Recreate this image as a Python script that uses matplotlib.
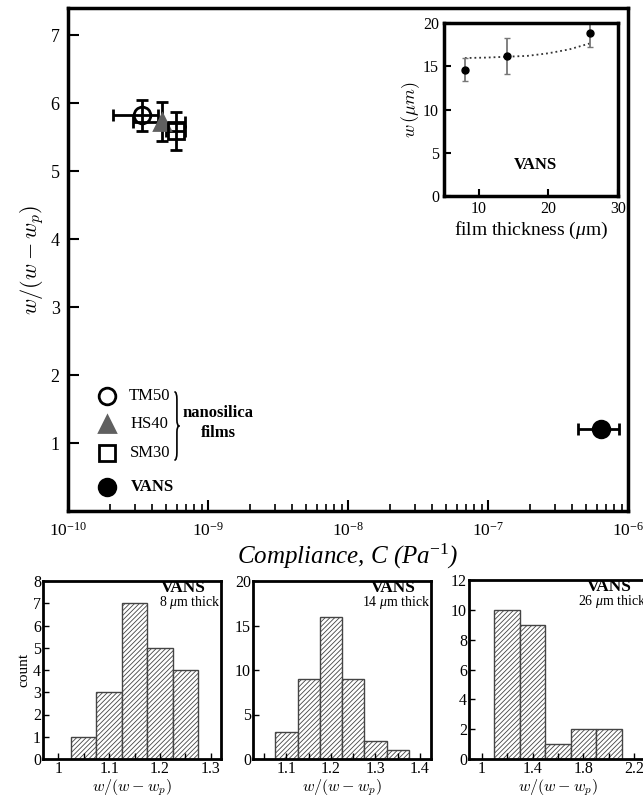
import numpy as np
import matplotlib
matplotlib.use('Agg')
import matplotlib.pyplot as plt
from matplotlib.path import Path
from matplotlib.patches import PathPatch
from matplotlib.ticker import LogLocator, LogFormatterSciNotation, FixedLocator, NullFormatter

plt.rcParams['font.family'] = ['Liberation Serif', 'DejaVu Serif']
plt.rcParams['mathtext.fontset'] = 'custom'
plt.rcParams['mathtext.rm'] = 'Liberation Serif'
plt.rcParams['mathtext.it'] = 'Liberation Serif:italic'
plt.rcParams['mathtext.bf'] = 'Liberation Serif:bold'
plt.rcParams['hatch.color'] = '#555555'
plt.rcParams['hatch.linewidth'] = 0.6

# main panel: nanosilica films and VANS
names = ['TM50', 'HS40', 'SM30', 'VANS']
comp = [3.4e-10, 4.7e-10, 5.9e-10, 6.4e-7]
comp_lo = [2.1e-10, 2.9e-10, 5.0e-10, 4.4e-7]
comp_hi = [4.4e-10, 6.9e-10, 6.9e-10, 8.6e-7]
ratio = [5.82, 5.73, 5.59, 1.21]
ratio_err = [0.23, 0.28, 0.28, 0.0]
markers = ['o', '^', 's', 'o']
faces = ['none', '#606060', 'none', 'black']
edges = ['black', '#606060', 'black', 'black']

# inset: w vs film thickness
thick = [8, 14, 26]
w_um = [14.6, 16.2, 18.8]
w_err = [1.35, 2.05, 1.6]
fit_x = [8, 11, 14, 17, 20, 23, 26]
fit_y = [15.95, 16.0, 16.1, 16.2, 16.5, 16.95, 17.65]

# histograms
h1_edges = [1.025, 1.075, 1.125, 1.175, 1.225, 1.275]
h1_counts = [1, 3, 7, 5, 4]
h2_edges = [1.075, 1.125, 1.175, 1.225, 1.275, 1.325, 1.375]
h2_counts = [3, 9, 16, 9, 2, 1]
h3_edges = [1.1, 1.3, 1.5, 1.7, 1.9, 2.1]
h3_counts = [10, 9, 1, 2, 2]

W, H = 643, 797
fig = plt.figure(figsize=(W / 100, H / 100), dpi=100)

def box(l, t, r, b):
    return [l / W, (H - b) / H, (r - l) / W, (b - t) / H]

wlab = r'$w/(w-w_p)$'

# ---- main axes
ax = fig.add_axes(box(68, 8, 628, 511))
for i in range(4):
    xerr = [[comp[i] - comp_lo[i]], [comp_hi[i] - comp[i]]]
    ax.errorbar([comp[i]], [ratio[i]], xerr=xerr, yerr=[ratio_err[i]] if ratio_err[i] > 0 else None,
                fmt='none', ecolor='black', elinewidth=2, capsize=4, capthick=2, zorder=2)
for i in range(4):
    ms = 12 if markers[i] == 'o' else 11
    ax.plot([comp[i]], [ratio[i]], marker=markers[i], ms=ms, mfc=faces[i], mec=edges[i],
            mew=2, ls='none', zorder=3)
ax.set_xscale('log')
ax.set_xlim(1e-10, 1e-6)
ax.set_ylim(0, 7.4)
ax.set_yticks([1, 2, 3, 4, 5, 6, 7])
ax.xaxis.set_major_locator(LogLocator(base=10))
ax.xaxis.set_minor_locator(LogLocator(base=10, subs=np.arange(2, 10)))
ax.xaxis.set_minor_formatter(NullFormatter())
ax.xaxis.set_major_formatter(LogFormatterSciNotation())
ax.tick_params(axis='both', which='major', direction='in', length=8, width=1.5)
ax.tick_params(axis='y', labelsize=13, pad=6)
ax.tick_params(axis='x', labelsize=12.5, pad=8)
ax.tick_params(axis='x', which='minor', direction='in', length=5, width=1.2)
for s in ax.spines.values():
    s.set_linewidth(2.5)
ax.set_xlabel(r'Compliance, C (Pa$^{\mathit{-1}}$)', fontsize=18, style='italic', labelpad=1)
ax.set_ylabel(wlab, fontsize=16, math_fontfamily='cm', labelpad=3)

# hand made legend
lx = 0.0696
leg_y = [0.2286, 0.173, 0.1153, 0.0477]
for i in range(4):
    ms = 12 if markers[i] == 'o' else 11
    ax.plot([lx], [leg_y[i]], marker=markers[i], ms=ms, mfc=faces[i], mec=edges[i], mew=2,
            ls='none', transform=ax.transAxes, clip_on=False)
for i in range(3):
    ax.text(0.146, leg_y[i], names[i], transform=ax.transAxes, fontsize=12,
            ha='center', va='center')
ax.text(0.1125, leg_y[3], 'VANS', transform=ax.transAxes, fontsize=12, fontweight='bold',
        ha='left', va='center')

# curly brace grouping the nanosilica films
bx, bw = 0.19, 0.009
bt, bb = 0.237, 0.101
bm = (bt + bb) / 2
verts = [(bx, bt), (bx + bw / 2, bt), (bx + bw / 2, bt - 0.015),
         (bx + bw / 2, bm + 0.012),
         (bx + bw / 2, bm), (bx + bw, bm),
         (bx + bw / 2, bm), (bx + bw / 2, bm - 0.012),
         (bx + bw / 2, bb + 0.015),
         (bx + bw / 2, bb), (bx, bb)]
codes = [Path.MOVETO, Path.CURVE3, Path.CURVE3, Path.LINETO, Path.CURVE3, Path.CURVE3,
         Path.CURVE3, Path.CURVE3, Path.LINETO, Path.CURVE3, Path.CURVE3]
ax.add_patch(PathPatch(Path(verts, codes), fill=False, lw=1.2, ec='black',
                       transform=ax.transAxes, clip_on=False))
ax.text(0.268, 0.195, 'nanosilica', transform=ax.transAxes, fontsize=12, fontweight='bold',
        ha='center', va='center')
ax.text(0.268, 0.155, 'films', transform=ax.transAxes, fontsize=12, fontweight='bold',
        ha='center', va='center')

# ---- inset
ins = fig.add_axes(box(444, 23, 618, 196))
ins.errorbar(thick, w_um, yerr=w_err, fmt='none', ecolor='#777777', elinewidth=1.3,
             capsize=2, capthick=1, zorder=2)
ins.plot(thick, w_um, 'o', color='black', ms=5, zorder=3)
ins.plot(fit_x, fit_y, ':', color='#333333', lw=1.3, zorder=1)
ins.set_xlim(5, 30)
ins.set_ylim(0, 20)
ins.set_xticks([10, 20, 30])
ins.set_yticks([0, 5, 10, 15, 20])
ins.tick_params(direction='in', length=5, width=1.5, labelsize=11.5)
for s in ins.spines.values():
    s.set_linewidth(2.5)
ins.set_xlabel(r'film thickness ($\mathit{\mu}$m)', fontsize=14, labelpad=2)
ins.set_ylabel(r'$w\,(\mu m)$', fontsize=13, math_fontfamily='cm', labelpad=1)
ins.text(0.523, 0.18, 'VANS', transform=ins.transAxes, fontsize=12, fontweight='bold',
         ha='center', va='center')

# ---- histograms
hists = [
    (box(43, 581, 221, 759), h1_edges, h1_counts, (0.97, 1.32), [1, 1.1, 1.2, 1.3],
     ['1', '1.1', '1.2', '1.3'], np.arange(1.05, 1.3, 0.1), (0, 8), range(0, 9), '8'),
    (box(253, 581, 431, 759), h2_edges, h2_counts, (1.025, 1.425), [1.1, 1.2, 1.3, 1.4],
     ['1.1', '1.2', '1.3', '1.4'], np.arange(1.05, 1.4, 0.1), (0, 20), range(0, 21, 5), '14'),
    (box(469, 580, 647, 759), h3_edges, h3_counts, (0.9, 2.3), [1, 1.4, 1.8, 2.2],
     ['1', '1.4', '1.8', '2.2'], [1.2, 1.6, 2.0], (0, 12), range(0, 13, 2), '26'),
]
for k, (pos, e, c, xl, xt, xtl, xm, yl, yt, th) in enumerate(hists):
    h = fig.add_axes(pos)
    widths = np.diff(e)
    h.bar(e[:-1], c, width=widths, align='edge', facecolor='white', edgecolor='#444444',
          linewidth=1, hatch='///////')
    h.set_xlim(*xl)
    h.set_ylim(*yl)
    h.set_xticks(xt)
    h.set_xticklabels(xtl)
    h.xaxis.set_minor_locator(FixedLocator(list(xm)))
    h.set_yticks(list(yt))
    h.tick_params(which='both', direction='in', length=4, width=1, labelsize=11.5, pad=1.5)
    for s in h.spines.values():
        s.set_linewidth(2)
    h.set_xlabel(wlab, fontsize=11.5, math_fontfamily='cm', labelpad=0)
    if k == 0:
        h.set_ylabel('count', fontsize=11, labelpad=2)
    h.text(0.79, 0.962, 'VANS', transform=h.transAxes, fontsize=12.5, fontweight='bold',
           ha='center', va='center')
    h.text(0.995, 0.88, th + r' $\mathit{\mu}$m thick', transform=h.transAxes, fontsize=10,
           ha='right', va='center')

fig.savefig('out.png', dpi=100)
